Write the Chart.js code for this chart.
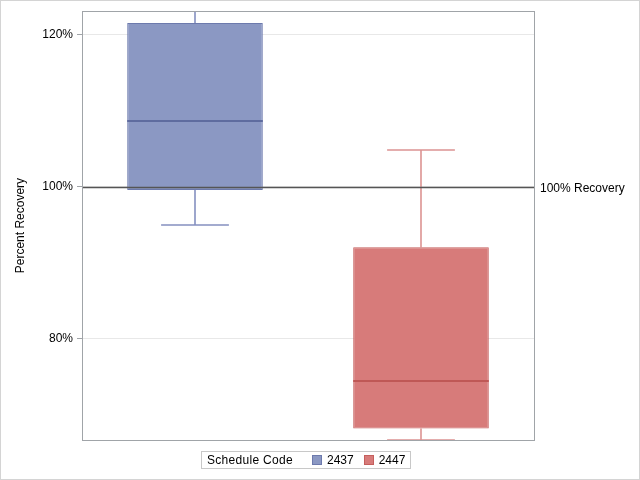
<!DOCTYPE html>
<html>
<head>
<meta charset="utf-8">
<script src="https://cdn.jsdelivr.net/npm/chart.js@4.4.1/dist/chart.umd.min.js"></script>
<style>
  body { margin: 0; background: #fff; }
  #wrap { position: relative; width: 640px; height: 480px; }
  #legend {
    position: absolute; left: 201px; top: 451px; height: 18px;
    border: 1px solid #c8c8c8; box-sizing: border-box;
    font: 12px "Liberation Sans", Arial, sans-serif; color: #000; letter-spacing: 0.3px;
    display: flex; align-items: center; padding: 0 5px 0 5px; white-space: nowrap;
  }
  #legend .swatch { display: inline-block; width: 8px; height: 8px; margin: 0 5px 0 0; }
  #legend .item { display: flex; align-items: center; margin-left: 10px; letter-spacing: 0; }
  #legend .item.first { margin-left: 19px; }
</style>
</head>
<body>
<div id="wrap">
  <canvas id="chart" width="640" height="480"></canvas>
  <div id="legend"></div>
</div>
<script>
const codes = ['2437', '2447'];
const minVals = [94.9, 66.6];
const q1Vals = [99.55, 68.1];
const medianVals = [108.6, 74.35];
const q3Vals = [121.55, 92.0];
const maxVals = [123.1, 104.75];
const tickValues = [80, 100, 120];
const refValue = 100;
const refLabel = '100% Recovery';
const legendTitle = 'Schedule Code';

const fills = ['rgb(139,152,195)', 'rgb(215,123,122)'];
const edges = ['#6d7aad', '#c55f5d'];
const medianColors = ['#5f6c9f', '#bf5856'];
const whiskerColors = ['#8590c0', '#dc9392'];
const fontFamily = '"Liberation Sans", Arial, sans-serif';

// one dataset per code so each box takes the full category slot
const datasets = codes.map((code, i) => ({
    label: code,
    data: codes.map((c, j) => j === i ? [q1Vals[i], q3Vals[i]] : null),
    backgroundColor: fills[i],
    borderColor: edges[i],
    borderWidth: 1,
    borderSkipped: false,
    grouped: false,
    barPercentage: 0.6,
    categoryPercentage: 1
}));

const boxPlot = {
    id: 'boxPlot',
    beforeDatasetsDraw(chart) {
        const { ctx, chartArea, scales: { y } } = chart;
        ctx.save();
        ctx.beginPath();
        ctx.rect(chartArea.left, chartArea.top, chartArea.width, chartArea.height);
        ctx.clip();
        chart.data.datasets.forEach((ds, di) => {
            const meta = chart.getDatasetMeta(di);
            meta.data.forEach((bar, i) => {
                if (ds.data[i] == null) return;
                const x = Math.round(bar.x);
                const half = bar.width / 4;
                const yMin = Math.round(y.getPixelForValue(minVals[i]));
                const yMax = Math.round(y.getPixelForValue(maxVals[i]));
                const yQ1 = y.getPixelForValue(q1Vals[i]);
                const yQ3 = y.getPixelForValue(q3Vals[i]);
                ctx.strokeStyle = whiskerColors[di];
                ctx.lineWidth = 1.6;
                ctx.beginPath();
                ctx.moveTo(x, yQ3); ctx.lineTo(x, yMax);
                ctx.moveTo(x, yQ1); ctx.lineTo(x, yMin);
                ctx.moveTo(x - half, yMax); ctx.lineTo(x + half, yMax);
                ctx.moveTo(x - half, yMin); ctx.lineTo(x + half, yMin);
                ctx.stroke();
            });
        });
        ctx.restore();
    },
    afterDatasetsDraw(chart) {
        const { ctx, chartArea, scales: { y } } = chart;
        ctx.save();
        chart.data.datasets.forEach((ds, di) => {
            const meta = chart.getDatasetMeta(di);
            meta.data.forEach((bar, i) => {
                if (ds.data[i] == null) return;
                const yMed = Math.round(y.getPixelForValue(medianVals[i]));
                ctx.strokeStyle = medianColors[di];
                ctx.lineWidth = 2;
                ctx.beginPath();
                ctx.moveTo(bar.x - bar.width / 2, yMed);
                ctx.lineTo(bar.x + bar.width / 2, yMed);
                ctx.stroke();
            });
        });
        // reference line and its label
        const yRef = Math.round(y.getPixelForValue(refValue)) + 0.5;
        ctx.strokeStyle = '#555';
        ctx.lineWidth = 1.5;
        ctx.beginPath();
        ctx.moveTo(chartArea.left, yRef);
        ctx.lineTo(chartArea.right, yRef);
        ctx.stroke();
        ctx.fillStyle = '#000';
        ctx.font = '12px ' + fontFamily;
        ctx.textBaseline = 'middle';
        ctx.fillText(refLabel, chartArea.right + 6, yRef + 1);
        ctx.restore();
    },
    afterDraw(chart) {
        const { ctx, chartArea, width, height } = chart;
        ctx.save();
        ctx.strokeStyle = '#a0a4a8';
        ctx.lineWidth = 1;
        ctx.strokeRect(Math.round(chartArea.left) + 0.5, Math.round(chartArea.top) + 0.5,
            Math.round(chartArea.width), Math.round(chartArea.height));
        ctx.strokeStyle = '#d4d4d4';
        ctx.strokeRect(0.5, 0.5, width - 1, height - 1);
        ctx.restore();
    }
};

new Chart(document.getElementById('chart'), {
    type: 'bar',
    data: { labels: codes, datasets: datasets },
    plugins: [boxPlot],
    options: {
        responsive: false,
        animation: false,
        layout: { padding: { top: 11, right: 106, bottom: 40, left: 0 } },
        plugins: {
            legend: { display: false },
            tooltip: { enabled: false }
        },
        scales: {
            x: { type: 'category', display: false, offset: true },
            y: {
                min: 66.6,
                max: 123.1,
                afterFit: function (scale) { scale.width = 82; },
                afterBuildTicks: function (scale) {
                    scale.ticks = tickValues.map(v => ({ value: v }));
                },
                ticks: {
                    callback: function (value) { return value + '%'; },
                    color: '#000',
                    padding: 4,
                    font: { size: 12, family: fontFamily }
                },
                grid: { color: '#e8e8e8', tickColor: '#a0a4a8', tickLength: 5 },
                border: { color: '#a0a4a8' },
                title: {
                    display: true,
                    text: 'Percent Recovery',
                    color: '#000',
                    padding: { top: 13, bottom: 0 },
                    font: { size: 12, family: fontFamily }
                }
            }
        }
    }
});

// legend: title then one swatch per code
const legend = document.getElementById('legend');
const title = document.createElement('span');
title.textContent = legendTitle;
legend.appendChild(title);
codes.forEach((code, i) => {
    const item = document.createElement('span');
    item.className = 'item' + (i === 0 ? ' first' : '');
    const sw = document.createElement('span');
    sw.className = 'swatch';
    sw.style.background = fills[i];
    sw.style.border = '1px solid ' + edges[i];
    item.appendChild(sw);
    item.appendChild(document.createTextNode(code));
    legend.appendChild(item);
});
</script>
</body>
</html>
